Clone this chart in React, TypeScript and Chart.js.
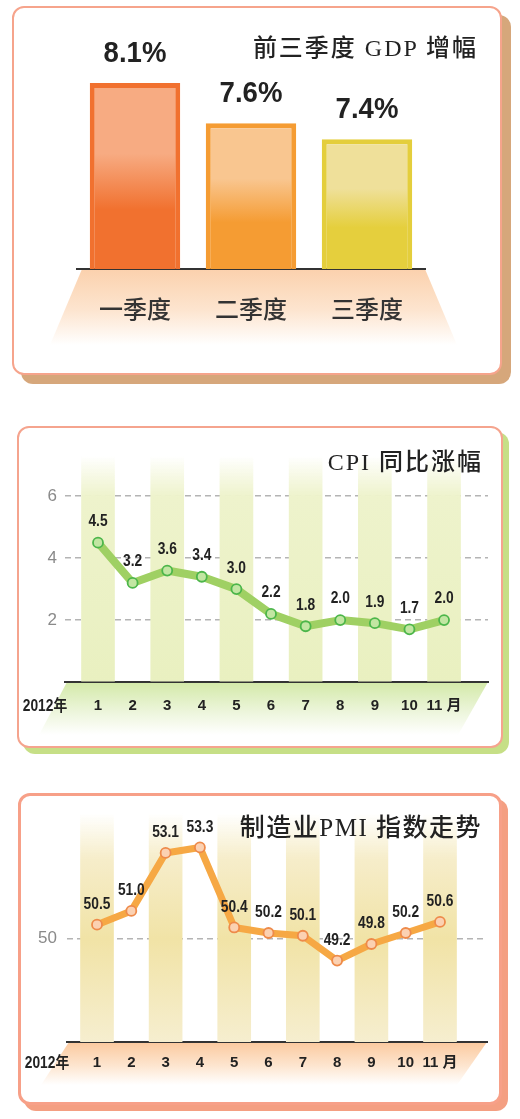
import React, { useEffect, useRef } from 'react';
import { Chart, registerables } from 'chart.js';

Chart.register(...registerables);

// ---------- data ----------
const gdpTitle = '前三季度 GDP 增幅';
const gdpCategories = ['一季度', '二季度', '三季度'];
const gdpValues = [8.1, 7.6, 7.4];

const yearLabel = '2012年';
const monthLabels = ['1', '2', '3', '4', '5', '6', '7', '8', '9', '10', '11 月'];
const bandMonths = [1, 3, 5, 7, 9, 11];

const cpiTitle = 'CPI 同比涨幅';
const cpiValues = [4.5, 3.2, 3.6, 3.4, 3.0, 2.2, 1.8, 2.0, 1.9, 1.7, 2.0];
const cpiTicks = [2, 4, 6];

const pmiTitle = '制造业PMI 指数走势';
const pmiValues = [50.5, 51.0, 53.1, 53.3, 50.4, 50.2, 50.1, 49.2, 49.8, 50.2, 50.6];
const pmiTicks = [50];

// ---------- styles ----------
const NUM_FONT = "'Liberation Sans', Arial, 'Noto Sans CJK SC', sans-serif";
const BOLD_FONT = "'Liberation Sans', Arial, sans-serif";
const CJK_FONT = "'Noto Sans CJK SC', sans-serif";
const TITLE_FONT = "'Liberation Serif', 'Noto Sans CJK SC', serif";

const gdpFills = [
  ['#f7ab82', '#f1712f'],
  ['#f9c690', '#f59c33'],
  ['#efe09a', '#e5cf3d'],
];
const gdpBorders = ['#f1712f', '#f59c33', '#e4ce3c'];

function squeezedText(ctx: any, text: string, x: number, y: number, sx: number) {
  ctx.save();
  ctx.translate(x, y);
  ctx.scale(sx, 1);
  ctx.fillText(text, 0, 0);
  ctx.restore();
}

function gdpConfig(): any {
  const yMin = 5.78;
  const yMax = 8.9;
  const decor = {
    id: 'gdpDecor',
    beforeDraw(chart: any) {
      const { ctx, chartArea } = chart;
      const top = chartArea.bottom;
      const h = 76;
      ctx.save();
      const g = ctx.createLinearGradient(0, top, 0, top + h);
      g.addColorStop(0, '#fbd1ad');
      g.addColorStop(0.55, '#fde5d0');
      g.addColorStop(1, 'rgba(255,255,255,1)');
      ctx.beginPath();
      ctx.moveTo(chartArea.left + 5, top);
      ctx.lineTo(chartArea.right, top);
      ctx.lineTo(chartArea.right + 32, top + h);
      ctx.lineTo(chartArea.left - 27, top + h);
      ctx.closePath();
      ctx.fillStyle = g;
      ctx.fill();
      ctx.restore();
    },
    afterDatasetsDraw(chart: any) {
      const { ctx } = chart;
      const meta = chart.getDatasetMeta(0);
      ctx.save();
      ctx.font = `bold 29px ${BOLD_FONT}`;
      ctx.fillStyle = '#222';
      ctx.textAlign = 'center';
      ctx.textBaseline = 'middle';
      meta.data.forEach((el: any, i: number) => {
        squeezedText(ctx, gdpValues[i].toFixed(1) + '%', el.x, el.y - 29, 0.95);
      });
      ctx.restore();
    },
  };
  return {
    type: 'bar',
    data: {
      labels: gdpCategories,
      datasets: [
        {
          data: gdpValues,
          backgroundColor: (c: any) => {
            const chart = c.chart;
            const area = chart.chartArea;
            const i = c.dataIndex ?? 0;
            if (!area || !chart.scales.y || c.type !== 'data') return gdpFills[i][1];
            const yTop = chart.scales.y.getPixelForValue(c.raw);
            const g = chart.ctx.createLinearGradient(0, yTop, 0, area.bottom);
            g.addColorStop(0, gdpFills[i][0]);
            g.addColorStop(0.38, gdpFills[i][0]);
            g.addColorStop(0.68, gdpFills[i][1]);
            g.addColorStop(1, gdpFills[i][1]);
            return g;
          },
          borderColor: gdpBorders,
          borderWidth: 5,
          borderSkipped: 'bottom',
          barPercentage: 0.78,
          categoryPercentage: 1,
        },
      ],
    },
    options: {
      responsive: false,
      animation: false,
      layout: { padding: { left: 65, right: 77, top: 13, bottom: 0 } },
      plugins: { legend: { display: false }, tooltip: { enabled: false } },
      scales: {
        x: {
          grid: { display: false, drawTicks: false },
          border: { display: true, color: '#333', width: 2 },
          ticks: { padding: 25, color: '#333', font: { family: CJK_FONT, size: 24, weight: '500' } },
          afterFit: (s: any) => {
            s.height = 106;
          },
        },
        y: { display: false, min: yMin, max: yMax },
      },
    },
    plugins: [decor],
  };
}

interface LineSpec {
  values: number[];
  ticks: number[];
  yMin: number;
  yMax: number;
  yStep: number;
  xMin: number;
  xMax: number;
  padTop: number;
  padRight: number;
  yWidth: number;
  xHeight: number;
  xTickPad: number;
  yTickPad: number;
  lineColor: string;
  lineWidth: number;
  pointFill: string;
  pointBorder: string;
  stripeStops: [number, string][];
  bandStops: [number, string][];
  bandHeight: number;
  labelOffset: number;
}

function lineConfig(spec: LineSpec): any {
  const decor = {
    id: 'lineDecor',
    beforeDraw(chart: any) {
      const { ctx, chartArea } = chart;
      const top = chartArea.bottom;
      const h = spec.bandHeight;
      ctx.save();
      const g = ctx.createLinearGradient(0, top, 0, top + h);
      spec.bandStops.forEach(([o, c]) => g.addColorStop(o, c));
      ctx.beginPath();
      ctx.moveTo(chartArea.left + 2, top);
      ctx.lineTo(chartArea.right, top);
      ctx.lineTo(chartArea.right - 30, top + h);
      ctx.lineTo(chartArea.left - 26, top + h);
      ctx.closePath();
      ctx.fillStyle = g;
      ctx.fill();
      ctx.restore();
    },
    afterDatasetsDraw(chart: any) {
      const { ctx, chartArea } = chart;
      const meta = chart.getDatasetMeta(0);
      ctx.save();
      ctx.font = `bold 16px ${NUM_FONT}`;
      ctx.fillStyle = '#222';
      ctx.textAlign = 'center';
      ctx.textBaseline = 'middle';
      meta.data.forEach((el: any, i: number) => {
        squeezedText(ctx, spec.values[i].toFixed(1), el.x, el.y - spec.labelOffset, 0.86);
      });
      const xs = chart.scales.x;
      ctx.font = `bold 16px ${NUM_FONT}`;
      squeezedText(ctx, yearLabel, chartArea.left - 20, xs.top + spec.xTickPad + 9.6, 0.86);
      ctx.restore();
    },
  };
  return {
    type: 'line',
    data: {
      datasets: [
        {
          type: 'line',
          data: spec.values.map((v, i) => ({ x: i, y: v })),
          borderColor: spec.lineColor,
          borderWidth: spec.lineWidth,
          borderJoinStyle: 'round',
          tension: 0,
          pointRadius: 5,
          pointBackgroundColor: spec.pointFill,
          pointBorderColor: spec.pointBorder,
          pointBorderWidth: 1.8,
          order: 0,
          clip: false,
        },
        {
          type: 'bar',
          data: bandMonths.map((m) => ({ x: m - 1, y: spec.yMax })),
          barThickness: 33,
          backgroundColor: (c: any) => {
            const area = c.chart.chartArea;
            if (!area) return spec.stripeStops[1][1];
            const g = c.chart.ctx.createLinearGradient(0, area.top, 0, area.bottom);
            spec.stripeStops.forEach(([o, col]) => g.addColorStop(o, col));
            return g;
          },
          borderWidth: 0,
          order: 1,
        },
      ],
    },
    options: {
      responsive: false,
      animation: false,
      layout: { padding: { left: 0, right: spec.padRight, top: spec.padTop, bottom: 0 } },
      plugins: { legend: { display: false }, tooltip: { enabled: false } },
      scales: {
        x: {
          type: 'linear',
          min: spec.xMin,
          max: spec.xMax,
          offset: false,
          grid: { display: false, drawTicks: false, offset: false },
          border: { display: true, color: '#333', width: 2 },
          ticks: {
            stepSize: 1,
            autoSkip: false,
            maxRotation: 0,
            includeBounds: false,
            padding: spec.xTickPad,
            color: '#222',
            font: { family: NUM_FONT, size: 15, weight: 'bold' },
            callback: (v: any) => {
              const n = Number(v);
              return Number.isInteger(n) && n >= 0 && n < monthLabels.length ? monthLabels[n] : '';
            },
          },
          afterFit: (s: any) => {
            s.height = spec.xHeight;
          },
        },
        y: {
          type: 'linear',
          min: spec.yMin,
          max: spec.yMax,
          grid: {
            drawTicks: false,
            lineWidth: 1.5,
            color: (c: any) => (c.tick && spec.ticks.includes(c.tick.value) ? '#b4b4b4' : 'rgba(0,0,0,0)'),
          },
          border: { display: false, dash: [6, 4] },
          ticks: {
            stepSize: spec.yStep,
            includeBounds: false,
            autoSkip: false,
            padding: spec.yTickPad,
            color: '#8a8a8a',
            font: { family: NUM_FONT, size: 17 },
            callback: (v: any) => (spec.ticks.includes(Number(v)) ? String(v) : ''),
          },
          afterFit: (s: any) => {
            s.width = spec.yWidth;
          },
        },
      },
    },
    plugins: [decor],
  };
}

function ChartCanvas({ make, left, top, width, height }: any) {
  const ref = useRef<HTMLCanvasElement | null>(null);
  useEffect(() => {
    if (!ref.current) return;
    const chart = new Chart(ref.current, make());
    return () => chart.destroy();
  }, []);
  return (
    <canvas
      ref={ref}
      width={width}
      height={height}
      style={{ position: 'absolute', left, top, width, height }}
    />
  );
}

function Panel({ left, top, width, height, border, shadow }: any) {
  return (
    <div
      style={{
        position: 'absolute',
        left,
        top,
        width,
        height,
        boxSizing: 'border-box',
        border,
        borderRadius: 12,
        background: '#fff',
        boxShadow: shadow,
      }}
    />
  );
}

function Title({ text, right, top, size, spacing }: any) {
  return (
    <div
      style={{
        position: 'absolute',
        right,
        top,
        fontFamily: TITLE_FONT,
        fontSize: size,
        lineHeight: `${size}px`,
        letterSpacing: spacing,
        fontWeight: 500,
        color: '#222',
        whiteSpace: 'nowrap',
      }}
    >
      {text}
    </div>
  );
}

export default function App() {
  const cpiSpec: LineSpec = {
    values: cpiValues,
    ticks: cpiTicks,
    yMin: 0,
    yMax: 7.3,
    yStep: 2,
    xMin: -0.954,
    xMax: 11.27,
    padTop: 30,
    padRight: 15,
    yWidth: 48,
    xHeight: 66,
    xTickPad: 15,
    yTickPad: 8,
    lineColor: '#9fd063',
    lineWidth: 8,
    pointFill: '#c2e6a2',
    pointBorder: '#4cb64a',
    stripeStops: [
      [0, 'rgba(237,242,199,0)'],
      [0.18, '#eef3cc'],
      [1, '#e9f0c0'],
    ],
    bandStops: [
      [0, '#d3e9a8'],
      [0.55, '#ecf5da'],
      [1, 'rgba(255,255,255,1)'],
    ],
    bandHeight: 53,
    labelOffset: 21,
  };
  const pmiSpec: LineSpec = {
    values: pmiValues,
    ticks: pmiTicks,
    yMin: 46.25,
    yMax: 54.54,
    yStep: 1,
    xMin: -0.875,
    xMax: 11.37,
    padTop: 17,
    padRight: 15,
    yWidth: 49,
    xHeight: 63,
    xTickPad: 12,
    yTickPad: 10,
    lineColor: '#f6a844',
    lineWidth: 7,
    pointFill: '#fbd1b2',
    pointBorder: '#ee8a4a',
    stripeStops: [
      [0, 'rgba(246,238,200,0)'],
      [0.2, '#f6edca'],
      [0.55, '#f1e3a6'],
      [1, '#f6eecf'],
    ],
    bandStops: [
      [0, '#fbc99e'],
      [0.55, '#fde5cf'],
      [1, 'rgba(255,255,255,1)'],
    ],
    bandHeight: 43,
    labelOffset: 20,
  };

  return (
    <div style={{ position: 'absolute', left: 0, top: 0, width: 520, height: 1119, background: '#fff', overflow: 'hidden' }}>
      <Panel left={12} top={6} width={490} height={369} border="2.5px solid #f6a48c" shadow="9px 9px 0 #d6a77b" />
      <ChartCanvas make={gdpConfig} left={12} top={6} width={490} height={369} />
      <Title text={gdpTitle} right={42} top={36} size={24} spacing="2px" />

      <Panel left={17} top={426} width={486} height={322} border="2px solid #f5a48e" shadow="6px 6px 0 #c6df86" />
      <ChartCanvas make={() => lineConfig(cpiSpec)} left={17} top={426} width={486} height={322} />
      <Title text={cpiTitle} right={37} top={450} size={24} spacing="2px" />

      <Panel left={18} top={793} width={484} height={312} border="3px solid #f7a088" shadow="6px 6px 0 #f49f82" />
      <ChartCanvas make={() => lineConfig(pmiSpec)} left={18} top={793} width={484} height={312} />
      <Title text={pmiTitle} right={38} top={815} size={25} spacing="1.5px" />
    </div>
  );
}
